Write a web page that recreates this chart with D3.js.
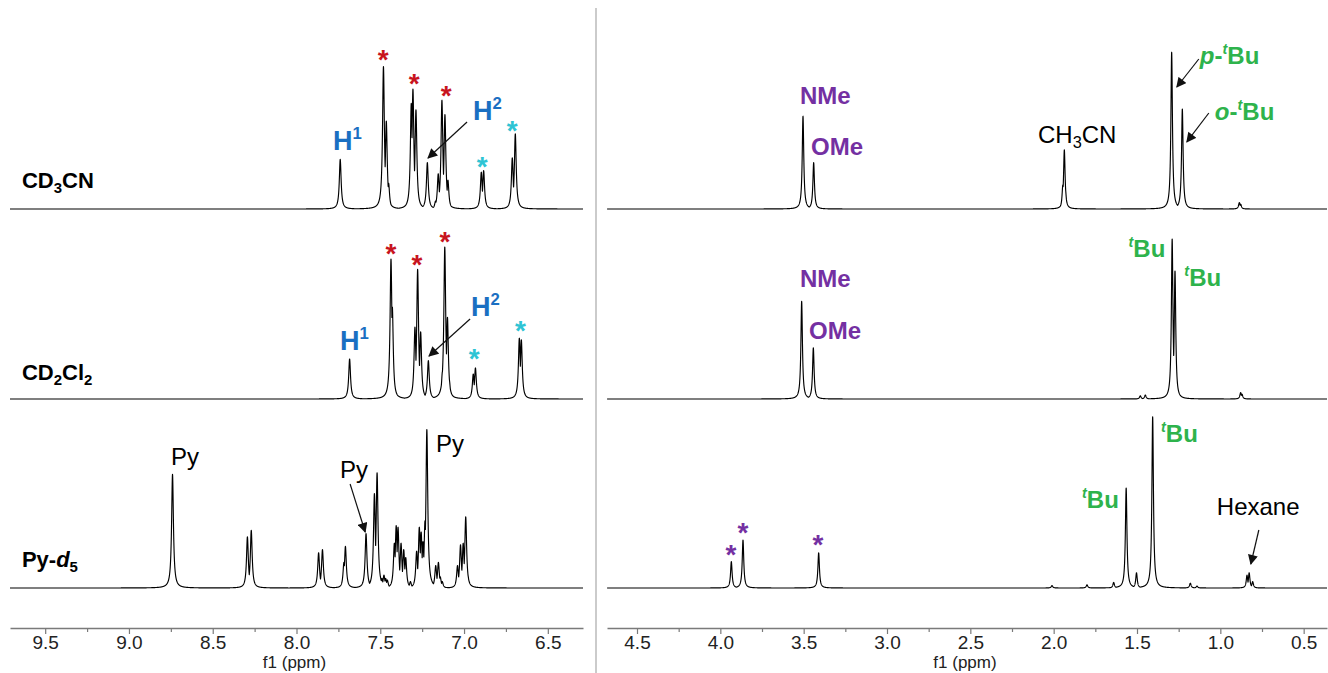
<!DOCTYPE html>
<html>
<head>
<meta charset="utf-8">
<script src="https://cdn.jsdelivr.net/npm/d3@7"></script>
<style>
body { margin: 0; background: #fff; }
svg { display: block; font-family: "Liberation Sans", Arial, Helvetica, sans-serif; }
</style>
</head>
<body>
<svg id="chart" width="1328" height="673"></svg>
<script>
// peak lists: [ppm, relative height]
var aromCD3CN = [
  [7.739, 0.31], [7.481, 0.89], [7.464, 0.55], [7.450, 0.16],
  [7.315, 0.66], [7.305, 0.75], [7.287, 0.62],
  [7.219, 0.29],
  [7.170, 0.05], [7.154, 0.22], [7.132, 0.68], [7.114, 0.59], [7.096, 0.18],
  [6.897, 0.23], [6.883, 0.24],
  [6.712, 0.32], [6.694, 0.47]
];
var aromCD2Cl2 = [
  [7.683, 0.25],
  [7.436, 0.875], [7.428, 0.575],
  [7.293, 0.45], [7.277, 0.81], [7.259, 0.42],
  [7.213, 0.24],
  [7.129, 0.17], [7.115, 0.95], [7.099, 0.51], [7.088, 0.12],
  [6.945, 0.156], [6.932, 0.194],
  [6.670, 0.38], [6.658, 0.37]
];
var aromPy = [
  [8.740, 0.71],
  [8.293, 0.32], [8.270, 0.36],
  [7.868, 0.22], [7.845, 0.24],
  [7.717, 0.16], [7.708, 0.26],
  [7.585, 0.34],
  [7.535, 0.59], [7.519, 0.72],
  [7.500, 0.07], [7.490, 0.06], [7.478, 0.08], [7.468, 0.06], [7.458, 0.05],
  [7.416, 0.28], [7.405, 0.39], [7.394, 0.38], [7.376, 0.28], [7.360, 0.24], [7.348, 0.19], [7.320, 0.04],
  [7.283, 0.23], [7.267, 0.38], [7.256, 0.35], [7.245, 0.29], [7.233, 0.42], [7.222, 0.99],
  [7.169, 0.14], [7.153, 0.16], [7.142, 0.07], [7.130, 0.04],
  [7.039, 0.14], [7.021, 0.27], [7.005, 0.28], [6.990, 0.445], [6.977, 0.08]
];
var aliCD3CN = [
  [3.504, 0.58], [3.440, 0.29],
  [1.945, 0.15], [1.936, 0.37], [1.929, 0.12],
  [1.292, 0.98], [1.228, 0.625],
  [0.886, 0.04], [0.878, 0.03]
];
var aliCD2Cl2 = [
  [3.512, 0.61], [3.442, 0.32],
  [1.480, 0.02], [1.450, 0.025],
  [1.289, 1.0], [1.272, 0.8],
  [0.878, 0.04], [0.870, 0.03]
];
var aliPy = [
  [3.934, 0.165], [3.864, 0.30], [3.410, 0.22],
  [2.010, 0.015], [1.800, 0.02], [1.640, 0.035],
  [1.565, 0.625], [1.503, 0.095], [1.406, 1.07],
  [1.180, 0.03], [1.140, 0.012],
  [0.840, 0.08], [0.827, 0.095], [0.806, 0.04]
];

var leftTicks  = [9.5, 9.25, 9.0, 8.75, 8.5, 8.25, 8.0, 7.75, 7.5, 7.25, 7.0, 6.75, 6.5];
var rightTicks = [4.5, 4.25, 4.0, 3.75, 3.5, 3.25, 3.0, 2.75, 2.5, 2.25, 2.0, 1.75, 1.5, 1.25, 1.0, 0.75, 0.5];
var axisTitle = "f1 (ppm)";

// annotations: panel, row, ppm, height level
var labels = [
  {p: "L", r: 0, ppm: 9.639, lvl: 0.131, t: [["CD"], ["3", "sub"], ["CN"]], s: "solv"},
  {p: "L", r: 1, ppm: 9.639, lvl: 0.119, t: [["CD"], ["2", "sub"], ["Cl"], ["2", "sub"]], s: "solv"},
  {p: "L", r: 2, ppm: 9.639, lvl: 0.131, t: [["Py-"], ["d", "i"], ["5", "sub"]], s: "solv"},
  {p: "L", r: 0, ppm: 7.782, lvl: 0.369, t: [["H"], ["1", "sup"]], s: "h"},
  {p: "L", r: 0, ppm: 6.946, lvl: 0.556, t: [["H"], ["2", "sup"]], s: "h"},
  {p: "L", r: 1, ppm: 7.740, lvl: 0.306, t: [["H"], ["1", "sup"]], s: "h"},
  {p: "L", r: 1, ppm: 6.958, lvl: 0.519, t: [["H"], ["2", "sup"]], s: "h"},
  {p: "L", r: 2, ppm: 8.749, lvl: 0.769, t: [["Py"]], s: "blk"},
  {p: "L", r: 2, ppm: 7.740, lvl: 0.6875, t: [["Py"]], s: "blk"},
  {p: "L", r: 2, ppm: 7.167, lvl: 0.85, t: [["Py"]], s: "blk"},
  {p: "R", r: 0, ppm: 3.522, lvl: 0.656, t: [["NMe"]], s: "pur"},
  {p: "R", r: 0, ppm: 3.456, lvl: 0.3375, t: [["OMe"]], s: "pur"},
  {p: "R", r: 0, ppm: 2.094, lvl: 0.4125, t: [["CH"], ["3", "sub"], ["CN"]], s: "blk"},
  {p: "R", r: 0, ppm: 1.123, lvl: 0.906, t: [["p", "i"], ["-"], ["t", "supi"], ["Bu"]], s: "grn"},
  {p: "R", r: 0, ppm: 1.033, lvl: 0.556, t: [["o", "i"], ["-"], ["t", "supi"], ["Bu"]], s: "grn"},
  {p: "R", r: 1, ppm: 3.522, lvl: 0.70, t: [["NMe"]], s: "pur"},
  {p: "R", r: 1, ppm: 3.468, lvl: 0.375, t: [["OMe"]], s: "pur"},
  {p: "R", r: 1, ppm: 1.551, lvl: 0.8875, t: [["t", "supi"], ["Bu"]], s: "grn"},
  {p: "R", r: 1, ppm: 1.216, lvl: 0.706, t: [["t", "supi"], ["Bu"]], s: "grn"},
  {p: "R", r: 2, ppm: 1.830, lvl: 0.50, t: [["t", "supi"], ["Bu"]], s: "grn"},
  {p: "R", r: 2, ppm: 1.356, lvl: 0.9125, t: [["t", "supi"], ["Bu"]], s: "grn"},
  {p: "R", r: 2, ppm: 1.021, lvl: 0.456, t: [["Hexane"]], s: "blk"}
];
var stars = [
  {p: "L", r: 0, ppm: 7.483, lvl: 0.975, c: "red"},
  {p: "L", r: 0, ppm: 7.298, lvl: 0.825, c: "red"},
  {p: "L", r: 0, ppm: 7.107, lvl: 0.75, c: "red"},
  {p: "L", r: 0, ppm: 6.892, lvl: 0.306, c: "cyan"},
  {p: "L", r: 0, ppm: 6.713, lvl: 0.531, c: "cyan"},
  {p: "L", r: 1, ppm: 7.436, lvl: 0.95, c: "red"},
  {p: "L", r: 1, ppm: 7.281, lvl: 0.881, c: "red"},
  {p: "L", r: 1, ppm: 7.114, lvl: 1.025, c: "red"},
  {p: "L", r: 1, ppm: 6.939, lvl: 0.294, c: "cyan"},
  {p: "L", r: 1, ppm: 6.664, lvl: 0.469, c: "cyan"},
  {p: "R", r: 2, ppm: 3.936, lvl: 0.25, c: "pur"},
  {p: "R", r: 2, ppm: 3.864, lvl: 0.3875, c: "pur"},
  {p: "R", r: 2, ppm: 3.414, lvl: 0.3125, c: "pur"}
];
var arrows = [
  {p: "L", r: 0, from: [6.982, 0.544], to: [7.215, 0.319]},
  {p: "L", r: 1, from: [6.964, 0.50], to: [7.209, 0.269]},
  {p: "L", r: 2, from: [7.680, 0.65], to: [7.590, 0.35]},
  {p: "R", r: 0, from: [1.129, 0.9375], to: [1.261, 0.7625]},
  {p: "R", r: 0, from: [1.069, 0.60], to: [1.201, 0.419]},
  {p: "R", r: 2, from: [0.769, 0.3625], to: [0.817, 0.15]}
];

var colors = {red: "#c8141e", cyan: "#2ec4d4", pur: "#7430a2", blue: "#1a6fc2", grn: "#2eb34c"};
var styles = {
  solv: {size: 22, weight: "bold", fill: "#000"},
  h:    {size: 27, weight: "bold", fill: colors.blue},
  pur:  {size: 24, weight: "bold", fill: colors.pur},
  grn:  {size: 24, weight: "bold", fill: colors.grn},
  blk:  {size: 24, weight: "normal", fill: "#000"}
};

var svg = d3.select("#chart");

var x = {
  L: d3.scaleLinear().domain([9.71, 6.29]).range([10, 583]),
  R: d3.scaleLinear().domain([4.68, 0.36]).range([607, 1327])
};
var rowBase = [209, 399, 588];
var rowH = 160;
var y = rowBase.map(function(b) { return d3.scaleLinear().domain([0, 1]).range([b, b - rowH]); });

// lorentzian line shape, half width in ppm
var gamma = {L: 0.0065, R: 0.0055};
function trace(peaks, dom, gam) {
  var lo = d3.min(dom), hi = d3.max(dom);
  var xs = d3.range(lo, hi, 0.0005).concat(peaks.map(function(p) { return p[0]; }));
  xs.sort(function(a, b) { return a - b; });
  return xs.map(function(v) {
    return [v, d3.max(peaks, function(p) { return p[1] * gam * gam / ((v - p[0]) * (v - p[0]) + gam * gam); })];
  });
}

var spectra = [
  {p: "L", r: 0, peaks: aromCD3CN}, {p: "L", r: 1, peaks: aromCD2Cl2}, {p: "L", r: 2, peaks: aromPy},
  {p: "R", r: 0, peaks: aliCD3CN}, {p: "R", r: 1, peaks: aliCD2Cl2}, {p: "R", r: 2, peaks: aliPy}
];

spectra.forEach(function(s) {
  var sx = x[s.p], sy = y[s.r];
  var line = d3.line().x(function(d) { return sx(d[0]); }).y(function(d) { return sy(d[1]); });
  svg.append("path")
    .attr("d", line(trace(s.peaks, sx.domain(), gamma[s.p])))
    .attr("fill", "none")
    .attr("stroke", "#000")
    .attr("stroke-width", 1.15)
    .attr("stroke-linejoin", "round");
});

// axes
var axisY = 628;
[["L", leftTicks], ["R", rightTicks]].forEach(function(a) {
  var sc = x[a[0]];
  var ax = d3.axisBottom(sc)
    .tickValues(a[1])
    .tickSizeOuter(0)
    .tickSizeInner(5)
    .tickPadding(3)
    .tickFormat(function(d) { return (Math.round(d * 4) % 2 === 0) ? d3.format(".1f")(d) : ""; });
  var g = svg.append("g").attr("transform", "translate(0," + axisY + ")").call(ax);
  g.select(".domain").attr("stroke", "#7a7a7a").attr("stroke-width", 1.6);
  g.selectAll(".tick line").attr("stroke", "#7a7a7a").attr("stroke-width", 1.2)
    .attr("y2", function(d) { return (Math.round(d * 4) % 2 === 0) ? 6 : 4; });
  g.selectAll(".tick text").attr("font-size", 19).attr("fill", "#222")
    .attr("font-family", "\"Liberation Sans\", Arial, sans-serif");
  var r = sc.range();
  svg.append("text")
    .attr("x", (r[0] + r[1]) / 2 - 2)
    .attr("y", 668)
    .attr("text-anchor", "middle")
    .attr("font-size", 17)
    .attr("fill", "#222")
    .text(axisTitle);
});

// divider between panels
svg.append("line")
  .attr("x1", 596).attr("x2", 596).attr("y1", 8).attr("y2", 673)
  .attr("stroke", "#a8a8a8").attr("stroke-width", 1.2);

// arrowhead
svg.append("defs").append("marker")
  .attr("id", "head")
  .attr("viewBox", "0 0 10 10")
  .attr("refX", 9).attr("refY", 5)
  .attr("markerWidth", 11).attr("markerHeight", 10)
  .attr("markerUnits", "userSpaceOnUse")
  .attr("orient", "auto")
  .append("path").attr("d", "M0,0 L10,5 L0,10 z").attr("fill", "#111");

arrows.forEach(function(a) {
  var sx = x[a.p], sy = y[a.r];
  svg.append("line")
    .attr("x1", sx(a.from[0])).attr("y1", sy(a.from[1]))
    .attr("x2", sx(a.to[0])).attr("y2", sy(a.to[1]))
    .attr("stroke", "#111").attr("stroke-width", 1.2)
    .attr("marker-end", "url(#head)");
});

// rich text with sub / superscripts
labels.forEach(function(l) {
  var st = styles[l.s];
  var t = svg.append("text")
    .attr("x", x[l.p](l.ppm))
    .attr("y", y[l.r](l.lvl))
    .attr("font-size", st.size)
    .attr("font-weight", st.weight)
    .attr("fill", st.fill);
  var cur = 0;
  l.t.forEach(function(part) {
    var k = part[1] || "";
    var shift = 0, fs = st.size;
    if (k === "sup") { shift = -0.40 * st.size; fs = 0.62 * st.size; }
    if (k === "supi") { shift = -0.42 * st.size; fs = 0.6 * st.size; }
    if (k === "sub") { shift = 0.22 * st.size; fs = 0.68 * st.size; }
    var ts = t.append("tspan").text(part[0]).attr("font-size", fs);
    if (shift - cur !== 0) ts.attr("dy", shift - cur);
    if (k === "i" || k === "supi") ts.attr("font-style", "italic");
    cur = shift;
  });
});

stars.forEach(function(s) {
  svg.append("text")
    .attr("x", x[s.p](s.ppm))
    .attr("y", y[s.r](s.lvl) + 16)
    .attr("text-anchor", "middle")
    .attr("font-size", 28)
    .attr("font-weight", "bold")
    .attr("fill", colors[s.c])
    .text("*");
});
</script>
</body>
</html>
